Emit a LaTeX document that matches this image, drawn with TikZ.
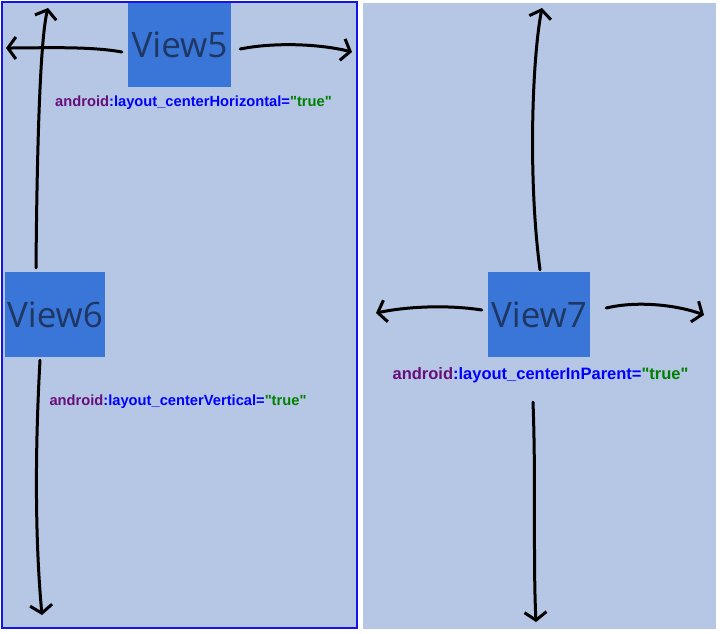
\documentclass[tikz,border=0pt]{standalone}
\usepackage{fontspec}
\setmainfont{Liberation Sans}
\newfontfamily\viewfont{Open Sans}
\usepackage{tikz}
\usetikzlibrary{arrows.meta}
\usepackage{xcolor}
\definecolor{panelbg}{RGB}{181,199,228}
\definecolor{panelline}{RGB}{20,20,230}
\definecolor{viewblue}{RGB}{58,118,216}
\definecolor{viewtext}{RGB}{30,55,100}
\definecolor{xmlpurple}{RGB}{102,14,122}
\definecolor{xmlblue}{RGB}{0,0,255}
\definecolor{xmlgreen}{RGB}{0,128,0}
\tikzstyle{arrow} = [line width=3pt, line cap=round, line join=round, ->, >={Straight Barb[length=8pt,width=22pt]}]
\tikzstyle{view} = [fill=viewblue, text=viewtext, inner sep=0pt, font=\viewfont\fontsize{35}{40}\selectfont]
\tikzstyle{attr} = [text=xmlblue, inner sep=0pt, anchor=base, font=\fontsize{14.7}{16}\selectfont\bfseries]
\newcommand{\attrval}[1]{\textcolor{xmlgreen}{\textquotedbl #1\textquotedbl}}

\begin{document}
\begin{tikzpicture}[x=1pt, y=-1pt]
\useasboundingbox[fill=white] (0,0) rectangle (720,633);

% Panels
\fill[panelbg] (2,2) rectangle (357,628);
\draw[panelline, line width=1.5pt] (2,2) rectangle (357,628);
\fill[panelbg] (363,3) rectangle (716,629);

% Views
\node[view, minimum width=103pt, minimum height=84pt] (view5) at (179.5,45) {View5};
\node[view, minimum width=100pt, minimum height=85pt] (view6) at (55,314.5) {View6};
\node[view, minimum width=102pt, minimum height=85pt] (view7) at (539,314.5) {View7};

% Attributes
\node[attr] (attr5) at (193.5,106) {\textcolor{xmlpurple}{android}:layout\_centerHorizontal=\attrval{true}};
\node[attr] (attr6) at (178,405.5) {\textcolor{xmlpurple}{android}:layout\_centerVertical=\attrval{true}};
\node[attr, font=\fontsize{16.5}{18}\selectfont\bfseries] (attr7) at (540.5,379) {\textcolor{xmlpurple}{android}:layout\_centerInParent=\attrval{true}};

% Arrow ends
\coordinate (up6) at (48,8);
\coordinate (left5) at (6,48);
\coordinate (right5) at (352,52);
\coordinate (down6) at (42,615);
\coordinate (up7) at (542,8);
\coordinate (left7) at (376,313);
\coordinate (right7) at (704,315);
\coordinate (down7) at (536,622);

% Arrows, left panel
\draw[arrow] ([xshift=-19pt,yshift=4pt]view6.north) .. controls (37,150) and (40,40) .. (up6);
\draw[arrow] ([xshift=-6pt,yshift=-7pt]view5.west) .. controls (90,46) and (40,48) .. (left5);
\draw[arrow] ([xshift=9pt,yshift=-4pt]view5.east) .. controls (275,42) and (320,44) .. (right5);
\draw[arrow] ([xshift=-15pt,yshift=-3pt]view6.south) .. controls (35,450) and (35,540) .. (down6);

% Arrows, right panel
\draw[arrow] ([xshift=1pt,yshift=2pt]view7.north) .. controls (528,180) and (532,60) .. (up7);
\draw[arrow] ([xshift=-6pt,yshift=4.5pt]view7.west) .. controls (450,305) and (410,306) .. (left7);
\draw[arrow] ([xshift=16pt,yshift=6.5pt]view7.east) .. controls (640,300) and (680,306) .. (right7);
\draw[arrow] ([xshift=-6pt,yshift=-45pt]view7.south) .. controls (536,480) and (533,560) .. (down7);
\end{tikzpicture}
\end{document}
